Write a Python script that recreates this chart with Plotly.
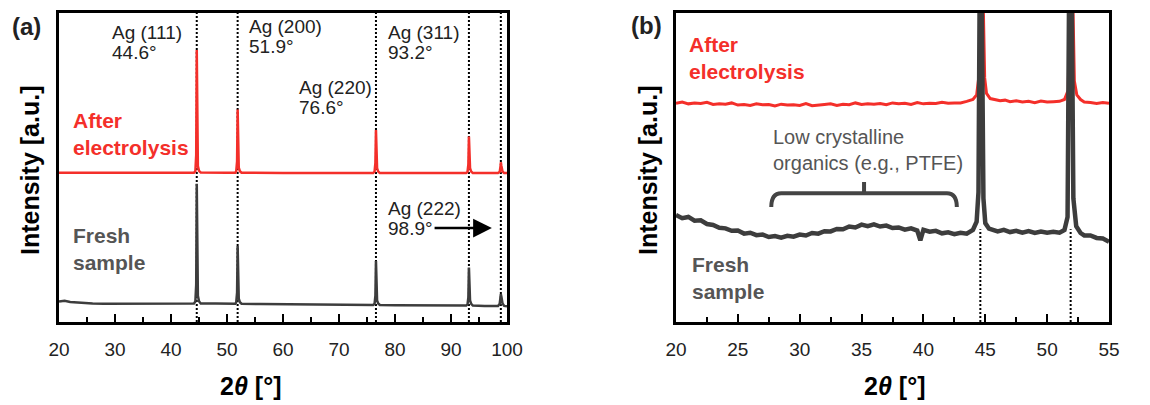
import plotly.graph_objects as go

# ---------------------------------------------------------------------------
# Data (intensity in arbitrary units, 0-100 frame)
# ---------------------------------------------------------------------------
PEAK_POS = [44.6, 51.9, 76.6, 93.2, 98.9]
PEAK_NAMES = ["Ag (111)", "Ag (200)", "Ag (220)", "Ag (311)", "Ag (222)"]
PEAK_ANGLES = ["44.6°", "51.9°", "76.6°", "93.2°", "98.9°"]

# panel (a): full scan 20-100 deg
a_red_x = [20, 30, 40, 44.1, 44.35, 44.5, 44.6, 44.7, 44.8, 45.0, 45.3,
           50, 51.5, 51.65, 51.8, 51.9, 52.0, 52.1, 52.3, 52.6,
           60, 70, 76.1, 76.35, 76.5, 76.6, 76.7, 76.8, 77.0, 77.3,
           85, 92.7, 92.95, 93.1, 93.2, 93.3, 93.4, 93.6, 93.9,
           98.4, 98.7, 98.85, 98.9, 99.0, 99.2, 99.5, 100]
a_red_y = [48.3, 48.2, 48.3, 48.3, 48.8, 54.0, 88.0, 60.0, 50.5, 48.9, 48.4,
           48.3, 48.3, 48.8, 52.0, 68.8, 56.0, 50.0, 48.8, 48.3,
           48.2, 48.2, 48.2, 48.7, 51.5, 62.1, 54.5, 49.8, 48.7, 48.2,
           48.2, 48.2, 48.6, 51.0, 60.0, 54.0, 49.8, 48.7, 48.2,
           48.2, 48.6, 50.5, 51.7, 50.5, 48.7, 48.2, 48.2]

a_dark_x = [20, 21, 22, 24, 26, 28, 30, 32, 35, 38, 41, 44.1,
            44.35, 44.5, 44.6, 44.7, 44.8, 45.0, 45.3,
            48, 51.5, 51.65, 51.8, 51.9, 52.0, 52.1, 52.3, 52.6,
            56, 60, 65, 70, 76.1, 76.35, 76.5, 76.6, 76.7, 76.8, 77.0, 77.3,
            80, 85, 92.7, 92.95, 93.1, 93.2, 93.3, 93.4, 93.6, 93.9,
            96, 98.4, 98.7, 98.85, 98.9, 99.0, 99.2, 99.5, 100]
a_dark_y = [6.6, 6.9, 6.5, 6.2, 6.0, 5.9, 5.9, 6.1, 6.0, 6.0, 5.9, 6.0,
            6.6, 12.0, 44.7, 18.0, 8.5, 6.7, 6.0,
            6.0, 5.9, 6.4, 9.5, 24.6, 12.5, 7.6, 6.4, 5.9,
            5.8, 5.7, 5.6, 5.5, 5.5, 5.9, 8.5, 19.7, 11.0, 7.0, 6.0, 5.5,
            5.4, 5.3, 5.3, 5.7, 8.0, 17.6, 10.5, 7.0, 5.9, 5.3,
            5.2, 5.2, 5.9, 8.0, 9.0, 8.2, 6.0, 5.2, 5.1]

# panel (b): zoom 20-55 deg (peaks run off the top)
b_red_x = [20.0, 20.5, 21.0, 21.5, 22.0, 22.5, 23.0, 23.5, 24.0, 24.5,
           25.0, 25.5, 26.0, 26.5, 27.0, 27.5, 28.0, 28.5, 29.0, 29.5,
           30.0, 30.5, 31.0, 31.5, 32.0, 32.5, 33.0, 33.5, 34.0, 34.5,
           35.0, 35.5, 36.0, 36.5, 37.0, 37.5, 38.0, 38.5, 39.0, 39.5,
           40.0, 40.5, 41.0, 41.5, 42.0, 42.5, 43.0, 43.5, 44.0, 44.3,
           44.5, 44.62, 44.8, 44.95, 45.1, 45.4, 45.8, 46.2, 46.6, 47.0,
           47.5, 48.0, 48.5, 49.0, 49.5, 50.0, 50.5, 51.0, 51.4, 51.7,
           51.85, 52.05, 52.2, 52.4, 52.7, 53.0, 53.5, 54.0, 54.5, 55.0]
b_red_y = [70.8, 71.2, 70.6, 70.9, 70.7, 71.1, 70.4, 70.6, 70.5, 70.9,
           70.2, 70.4, 70.1, 70.6, 70.3, 70.4, 69.9, 70.5, 70.2, 70.3,
           70.1, 70.7, 70.0, 70.3, 70.4, 70.6, 70.1, 70.5, 70.3, 70.9,
           70.4, 70.6, 70.5, 70.7, 70.3, 70.9, 70.6, 70.8, 70.4, 71.0,
           70.6, 70.8, 70.7, 71.1, 70.8, 70.9, 70.9, 71.4, 72.0, 73.5,
           80.0, 110, 110, 79.0, 74.0, 72.3, 72.0, 71.6, 71.8, 71.3,
           71.6, 71.2, 71.4, 71.0, 71.5, 71.2, 71.3, 71.4, 72.0, 75.0,
           110, 110, 78.0, 73.5, 72.0, 71.2, 71.0, 70.7, 71.0, 70.8]

b_dark_x = [20.0, 20.5, 21.0, 21.5, 22.0, 22.5, 23.0, 23.5, 24.0, 24.5,
            25.0, 25.5, 26.0, 26.5, 27.0, 27.5, 28.0, 28.5, 29.0, 29.5,
            30.0, 30.5, 31.0, 31.5, 32.0, 32.5, 33.0, 33.5, 34.0, 34.5,
            35.0, 35.5, 36.0, 36.5, 37.0, 37.5, 38.0, 38.5, 39.0, 39.5,
            39.75, 40.0, 40.5, 41.0, 41.5, 42.0, 42.5, 43.0, 43.5, 44.0,
            44.3, 44.45, 44.55, 44.7, 44.85, 45.0, 45.3, 45.5, 46.0, 46.5,
            47.0, 47.5, 48.0, 48.5, 49.0, 49.5, 50.0, 50.5, 51.0, 51.4,
            51.65, 51.78, 51.98, 52.12, 52.35, 52.7, 53.0, 53.5, 54.0, 54.5, 55.0]
b_dark_y = [34.6, 33.6, 34.0, 32.8, 32.9, 31.7, 31.4, 30.5, 30.3, 29.5,
            29.6, 28.6, 28.9, 28.1, 28.3, 27.5, 27.8, 27.3, 27.9, 27.6,
            28.3, 28.0, 28.8, 28.6, 29.4, 29.3, 30.1, 30.0, 30.9, 30.6,
            31.5, 31.0, 31.6, 30.9, 31.2, 30.4, 30.6, 29.9, 30.3, 29.6,
            26.4, 29.8, 29.2, 29.5, 28.7, 29.0, 28.4, 28.9, 28.6, 29.8,
            32.5, 42.0, 110, 110, 40.0, 32.0, 30.2, 29.9, 29.3, 29.8,
            29.1, 29.5, 28.9, 29.4, 28.8, 29.3, 28.9, 29.2, 28.9, 29.8,
            34.0, 110, 110, 40.0, 31.0, 28.8, 28.0, 28.0, 27.2, 27.0, 26.0]

# ---------------------------------------------------------------------------
# Style
# ---------------------------------------------------------------------------
FONT = "Arial, 'Liberation Sans', sans-serif"
RED = "#f42f2a"
DARK = "#3d3d3d"
GRAY_TXT = "#555555"
W, H = 1150, 405


def px(x):
    return x / W


def py(y):
    return 1 - y / H


fig = go.Figure()

fig.add_trace(go.Scatter(x=a_dark_x, y=a_dark_y, mode="lines",
                         line=dict(color=DARK, width=2.5), xaxis="x", yaxis="y"))
fig.add_trace(go.Scatter(x=a_red_x, y=a_red_y, mode="lines",
                         line=dict(color=RED, width=2.5), xaxis="x", yaxis="y"))
fig.add_trace(go.Scatter(x=b_red_x, y=b_red_y, mode="lines",
                         line=dict(color=RED, width=3), xaxis="x2", yaxis="y2"))
fig.add_trace(go.Scatter(x=b_dark_x, y=b_dark_y, mode="lines",
                         line=dict(color=DARK, width=4.5), xaxis="x2", yaxis="y2"))

shapes = []
for p in PEAK_POS:
    shapes.append(dict(type="line", xref="x", yref="y", x0=p, x1=p, y0=0, y1=100,
                       line=dict(color="black", width=2, dash="2px,2px"), layer="below"))
for p in PEAK_POS[:2]:
    shapes.append(dict(type="line", xref="x2", yref="y2", x0=p, x1=p, y0=0, y1=30,
                       line=dict(color="black", width=2, dash="2px,2px"), layer="below"))
# curly bracket over the broad organic hump
shapes.append(dict(type="path", xref="x2", yref="y2",
                   path="M 27.7,37.2 Q 27.7,41.7 28.5,41.7 L 41.9,41.7 Q 42.7,41.7 42.7,37.2 "
                        "M 35.2,41.7 L 35.2,45.3",
                   line=dict(color="#444444", width=4)))

ann = []


def label(x, y, text, size=19, color="#222222", bold=False, xanchor="left", angle=0):
    t = f"<b>{text}</b>" if bold else text
    ann.append(dict(x=px(x), y=py(y), xref="paper", yref="paper", text=t,
                    showarrow=False, xanchor=xanchor, yanchor="middle", align="left",
                    textangle=angle, font=dict(family=FONT, size=size, color=color)))


# peak labels in panel (a)
label_xy = [(110, 32), (247, 26), (297, 88), (386, 32), (386, 208)]
for (lx, ly), name, ang in zip(label_xy, PEAK_NAMES, PEAK_ANGLES):
    label(lx, ly, name)
    label(lx, ly + 20, ang)

label(71, 133.5, "After<br>electrolysis", size=21, color=RED, bold=True)
label(71, 249, "Fresh<br>sample", size=21, color=GRAY_TXT, bold=True)
label(687, 58, "After<br>electrolysis", size=21, color=RED, bold=True)
label(690, 277.5, "Fresh<br>sample", size=21, color=GRAY_TXT, bold=True)
label(771, 150, "Low crystalline<br>organics (e.g., PTFE)", size=20, color=GRAY_TXT)

label(27, 27, "(a)", size=24, bold=True, xanchor="center")
label(647, 25, "(b)", size=24, bold=True, xanchor="center")
label(30, 171, "Intensity [a.u.]", size=25, color="black", bold=True, xanchor="center", angle=-90)
label(648, 171, "Intensity [a.u.]", size=25, color="black", bold=True, xanchor="center", angle=-90)
label(250, 386, "2<i>θ</i> [°]", size=25, color="black", bold=True, xanchor="center")
label(895, 386, "2<i>θ</i> [°]", size=25, color="black", bold=True, xanchor="center")

# arrow pointing to Ag (222)
ann.append(dict(x=97.3, y=30.4, ax=86.8, ay=30.4, xref="x", yref="y", axref="x", ayref="y",
                text="", showarrow=True, arrowhead=2, arrowsize=1.5, arrowwidth=2.5,
                arrowcolor="black"))

y_dom = [py(322), py(13)]
xaxis_common = dict(showgrid=False, zeroline=False, showline=True, linecolor="black",
                    linewidth=3, mirror=True, ticks="inside", ticklen=8, tickwidth=2,
                    tickcolor="black", ticklabelstandoff=8, automargin=False,
                    tickfont=dict(family=FONT, size=19, color="#222222"))
yaxis_common = dict(showgrid=False, zeroline=False, showline=True, linecolor="black",
                    linewidth=3, mirror=True, showticklabels=False, ticks="",
                    range=[0, 100], fixedrange=True, automargin=False)

fig.update_layout(
    width=W, height=H, autosize=False,
    margin=dict(l=0, r=0, t=0, b=0, pad=0),
    paper_bgcolor="white", plot_bgcolor="white",
    showlegend=False,
    xaxis=dict(domain=[px(59), px(507)], range=[20, 100], dtick=10, tick0=20,
               minor=dict(ticks="inside", ticklen=5, tickwidth=2, dtick=5, tickcolor="black"),
               anchor="y", **xaxis_common),
    yaxis=dict(domain=y_dom, anchor="x", **yaxis_common),
    xaxis2=dict(domain=[px(676), px(1109)], range=[20, 55], dtick=5, tick0=20,
                minor=dict(ticks="inside", ticklen=5, tickwidth=2, dtick=2.5, tickcolor="black"),
                anchor="y2", **xaxis_common),
    yaxis2=dict(domain=y_dom, anchor="x2", **yaxis_common),
    shapes=shapes,
    annotations=ann,
)

fig.write_html("out.html", config={"responsive": False, "displayModeBar": False},
               post_script="document.body.style.margin='0px';document.body.style.overflow='hidden';")
